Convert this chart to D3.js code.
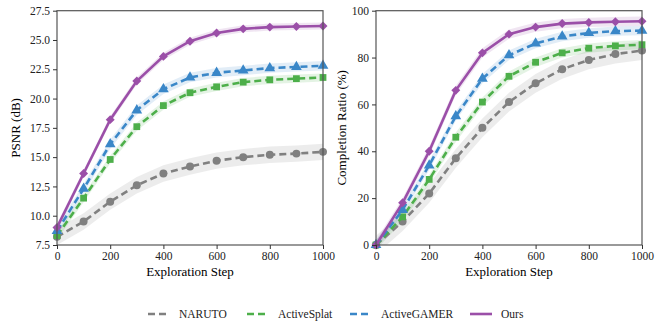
<!DOCTYPE html>
<html>
<head>
<meta charset="utf-8">
<script src="https://cdn.jsdelivr.net/npm/d3@7"></script>
<style>
  body { margin: 0; background: #fff; }
  text { font-family: "Liberation Serif", "DejaVu Serif", serif; }
</style>
</head>
<body>
<div id="chart"></div>
<script>
// data
var steps = [0, 100, 200, 300, 400, 500, 600, 700, 800, 900, 1000];
var methods = ['NARUTO', 'ActiveSplat', 'ActiveGAMER', 'Ours'];

var psnrNaruto = [8.2, 9.5, 11.2, 12.6, 13.6, 14.2, 14.7, 15.0, 15.2, 15.3, 15.45];
var psnrSplat  = [8.3, 11.5, 14.8, 17.6, 19.4, 20.5, 21.0, 21.4, 21.6, 21.7, 21.8];
var psnrGamer  = [8.7, 12.3, 16.1, 19.0, 20.8, 21.8, 22.2, 22.4, 22.6, 22.7, 22.8];
var psnrOurs   = [9.0, 13.6, 18.2, 21.5, 23.6, 24.9, 25.6, 25.95, 26.1, 26.15, 26.2];

var compNaruto = [0, 10, 22, 37, 50, 61, 69, 75, 79, 81.5, 83];
var compSplat  = [0, 12, 28, 46, 61, 72, 78, 82, 84, 85, 85.5];
var compGamer  = [0, 15, 34, 55, 71, 81, 86, 89, 90.5, 91.3, 91.5];
var compOurs   = [0, 18, 40, 66, 82, 90, 93, 94.5, 95, 95.3, 95.5];

// std band half-widths
var psnrStd = [0.7, 0.35, 0.4, 0.3];
var compStd = [4, 2, 2, 2];

var psnrTicks = [7.5, 10.0, 12.5, 15.0, 17.5, 20.0, 22.5, 25.0, 27.5];
var compTicks = [0, 20, 40, 60, 80, 100];
var stepTicks = [0, 200, 400, 600, 800, 1000];

var colors = ['#808080', '#4daf4a', '#3a87c8', '#9b4fa8'];
var dashes = ['7,4', '7,4', '7,4', null];
var shapes = [d3.symbolCircle, d3.symbolSquare, d3.symbolTriangle, d3.symbolSquare];
var sizes = [50, 46, 50, 40];
var rot = [0, 0, 0, 45];

var svg = d3.select('#chart').append('svg')
    .attr('width', 665)
    .attr('height', 326);

function panel(left, series, stds, yDomain, yTicks, yFmt, yLabel, labelX) {
    var x = d3.scaleLinear().domain([0, 1000]).range([left, left + 266]);
    var y = d3.scaleLinear().domain(yDomain).range([245, 10.7]);
    var g = svg.append('g');

    var line = d3.line().x(function(d, i) { return x(steps[i]); }).y(function(d) { return y(d); });

    g.append('clipPath').attr('id', 'clip' + left)
        .append('rect').attr('x', x(0)).attr('y', y(yDomain[1])).attr('width', 266).attr('height', y(yDomain[0]) - y(yDomain[1]));

    series.forEach(function(vals, k) {
        var band = d3.area()
            .x(function(d, i) { return x(steps[i]); })
            .y0(function(d) { return y(d - stds[k]); })
            .y1(function(d) { return y(d + stds[k]); });
        g.append('path')
            .datum(vals)
            .attr('d', band)
            .attr('fill', colors[k])
            .attr('fill-opacity', 0.15)
            .attr('clip-path', 'url(#clip' + left + ')');
    });

    series.forEach(function(vals, k) {
        g.append('path')
            .datum(vals)
            .attr('d', line)
            .attr('fill', 'none')
            .attr('stroke', colors[k])
            .attr('stroke-width', 2.6)
            .attr('stroke-dasharray', dashes[k]);
        g.selectAll('.m' + k)
            .data(vals)
            .enter()
            .append('path')
            .attr('transform', function(d, i) { return 'translate(' + x(steps[i]) + ',' + y(d) + ') rotate(' + rot[k] + ')'; })
            .attr('d', d3.symbol().type(shapes[k]).size(sizes[k]))
            .attr('fill', colors[k]);
    });

    // frame
    g.append('rect')
        .attr('x', x(0)).attr('y', y(yDomain[1]))
        .attr('width', 266).attr('height', y(yDomain[0]) - y(yDomain[1]))
        .attr('fill', 'none').attr('stroke', '#555').attr('stroke-width', 1.2);

    var xAxis = g.append('g')
        .attr('transform', 'translate(0,' + y(yDomain[0]) + ')')
        .call(d3.axisBottom(x).tickValues(stepTicks).tickFormat(d3.format('d')).tickSize(4).tickPadding(3));
    var yAxis = g.append('g')
        .attr('transform', 'translate(' + x(0) + ',0)')
        .call(d3.axisLeft(y).tickValues(yTicks).tickFormat(yFmt).tickSize(4).tickPadding(3));
    [xAxis, yAxis].forEach(function(a) {
        a.select('.domain').remove();
        a.selectAll('line').attr('stroke', '#333');
        a.selectAll('text').attr('fill', '#222').style('font-size', '11.5px').style('font-family', '"Liberation Serif", serif');
    });

    g.append('text')
        .attr('x', x(500)).attr('y', 276)
        .attr('text-anchor', 'middle')
        .style('font-size', '13px')
        .text('Exploration Step');
    g.append('text')
        .attr('transform', 'translate(' + labelX + ',' + y((yDomain[0] + yDomain[1]) / 2) + ') rotate(-90)')
        .attr('text-anchor', 'middle')
        .style('font-size', '13px')
        .text(yLabel);
}

panel(57, [psnrNaruto, psnrSplat, psnrGamer, psnrOurs], psnrStd, [7.5, 27.5], psnrTicks, d3.format('.1f'), 'PSNR (dB)', 20);
panel(376, [compNaruto, compSplat, compGamer, compOurs], compStd, [0, 100], compTicks, d3.format('d'), 'Completion Ratio (%)', 346);

// legend
var legX = [148, 247, 350, 470];
var leg = svg.append('g');
methods.forEach(function(name, k) {
    leg.append('line')
        .attr('x1', legX[k]).attr('x2', legX[k] + 22)
        .attr('y1', 314).attr('y2', 314)
        .attr('stroke', colors[k]).attr('stroke-width', 2.6)
        .attr('stroke-dasharray', dashes[k]);
    leg.append('text')
        .attr('x', legX[k] + 31).attr('y', 318)
        .style('font-size', '11.5px')
        .attr('fill', '#222')
        .text(name);
});
</script>
</body>
</html>
